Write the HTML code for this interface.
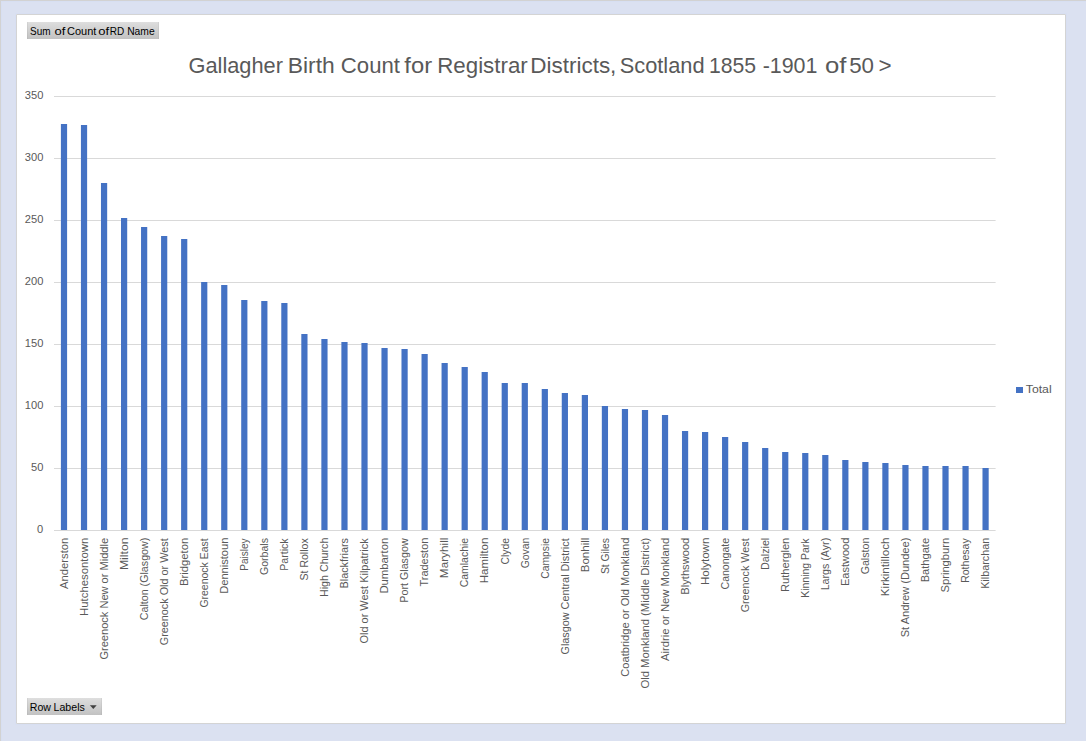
<!DOCTYPE html>
<html><head><meta charset="utf-8"><style>
html,body{margin:0;padding:0;}
body{width:1086px;height:741px;overflow:hidden;background:#dbe1f1;position:relative;font-family:"Liberation Sans",sans-serif;}
svg{position:absolute;left:0;top:0;}
.ax{font-family:"Liberation Sans",sans-serif;font-size:11.2px;fill:#595959;}
.ttl{font-family:"Liberation Sans",sans-serif;font-size:21.6px;fill:#595959;}
.btn{font-family:"Liberation Sans",sans-serif;font-size:11px;fill:#000;}
</style></head><body>
<svg width="1086" height="741" viewBox="0 0 1086 741">
<defs><linearGradient id="bg" x1="0" y1="0" x2="0" y2="1"><stop offset="0" stop-color="#dedede"/><stop offset="1" stop-color="#c2c2c2"/></linearGradient><linearGradient id="bgE" x1="0" y1="0" x2="0" y2="1"><stop offset="0" stop-color="#d3d3d3"/><stop offset="1" stop-color="#bababa"/></linearGradient></defs>
<rect x="1" y="1" width="1085" height="1" fill="#d7dff2"/>
<rect x="1" y="1" width="1" height="740" fill="#d7dff2"/>
<rect x="0" y="0" width="1086" height="1" fill="#d2d2d2"/>
<rect x="0" y="0" width="1" height="741" fill="#d2d2d2"/>
<rect x="15" y="13" width="1052" height="712" fill="#d8dff2"/>
<rect x="16" y="14" width="1050" height="710" fill="#d4d4d4"/>
<rect x="16" y="14" width="1" height="1" fill="#d9dbe0"/><rect x="1065" y="14" width="1" height="1" fill="#d9dbe0"/><rect x="16" y="723" width="1" height="1" fill="#d9dbe0"/><rect x="1065" y="723" width="1" height="1" fill="#d9dbe0"/>
<rect x="17" y="15" width="1048" height="708" fill="#ffffff"/>
<rect x="27" y="22" width="132" height="17" fill="url(#bg)"/><rect x="27" y="22" width="1" height="17" fill="url(#bgE)"/><rect x="158" y="22" width="1" height="17" fill="url(#bgE)"/>
<text x="30.10" y="34.6" class="btn" textLength="20.46" lengthAdjust="spacingAndGlyphs">Sum</text>
<text x="54.58" y="34.6" class="btn" textLength="10.87" lengthAdjust="spacingAndGlyphs">of</text>
<text x="67.05" y="34.6" class="btn" textLength="29.34" lengthAdjust="spacingAndGlyphs">Count</text>
<text x="98.18" y="34.6" class="btn" textLength="10.87" lengthAdjust="spacingAndGlyphs">of</text>
<text x="109.80" y="34.6" class="btn" textLength="14.44" lengthAdjust="spacingAndGlyphs">RD</text>
<text x="127.17" y="34.6" class="btn" textLength="27.52" lengthAdjust="spacingAndGlyphs">Name</text>
<text x="188.51" y="73" class="ttl" textLength="94.44" lengthAdjust="spacingAndGlyphs">Gallagher</text>
<text x="287.77" y="73" class="ttl" textLength="46.94" lengthAdjust="spacingAndGlyphs">Birth</text>
<text x="340.89" y="73" class="ttl" textLength="59.10" lengthAdjust="spacingAndGlyphs">Count</text>
<text x="404.36" y="73" class="ttl" textLength="27.74" lengthAdjust="spacingAndGlyphs">for</text>
<text x="437.21" y="73" class="ttl" textLength="90.56" lengthAdjust="spacingAndGlyphs">Registrar</text>
<text x="530.20" y="73" class="ttl" textLength="86.19" lengthAdjust="spacingAndGlyphs">Districts,</text>
<text x="619.71" y="73" class="ttl" textLength="84.94" lengthAdjust="spacingAndGlyphs">Scotland</text>
<text x="709.00" y="73" class="ttl" textLength="47.14" lengthAdjust="spacingAndGlyphs">1855</text>
<text x="762.64" y="73" class="ttl" textLength="54.78" lengthAdjust="spacingAndGlyphs">-1901</text>
<text x="825.07" y="73" class="ttl" textLength="21.43" lengthAdjust="spacingAndGlyphs">of</text>
<text x="849.21" y="73" class="ttl" textLength="24.84" lengthAdjust="spacingAndGlyphs">50</text>
<text x="878.48" y="73" class="ttl" textLength="13.11" lengthAdjust="spacingAndGlyphs">&gt;</text>
<rect x="53.98" y="530" width="941.62" height="1" fill="#d9d9d9"/>
<rect x="53.98" y="468" width="941.62" height="1" fill="#d9d9d9"/>
<rect x="53.98" y="406" width="941.62" height="1" fill="#d9d9d9"/>
<rect x="53.98" y="344" width="941.62" height="1" fill="#d9d9d9"/>
<rect x="53.98" y="282" width="941.62" height="1" fill="#d9d9d9"/>
<rect x="53.98" y="220" width="941.62" height="1" fill="#d9d9d9"/>
<rect x="53.98" y="158" width="941.62" height="1" fill="#d9d9d9"/>
<rect x="53.98" y="96" width="941.62" height="1" fill="#d9d9d9"/>
<text x="37.11" y="532.8" class="ax" textLength="6.19" lengthAdjust="spacingAndGlyphs">0</text>
<text x="30.99" y="470.8" class="ax" textLength="12.38" lengthAdjust="spacingAndGlyphs">50</text>
<text x="24.75" y="408.8" class="ax" textLength="18.57" lengthAdjust="spacingAndGlyphs">100</text>
<text x="24.75" y="346.8" class="ax" textLength="18.57" lengthAdjust="spacingAndGlyphs">150</text>
<text x="24.75" y="284.8" class="ax" textLength="18.57" lengthAdjust="spacingAndGlyphs">200</text>
<text x="24.75" y="222.8" class="ax" textLength="18.57" lengthAdjust="spacingAndGlyphs">250</text>
<text x="24.75" y="160.8" class="ax" textLength="18.57" lengthAdjust="spacingAndGlyphs">300</text>
<text x="24.75" y="98.8" class="ax" textLength="18.57" lengthAdjust="spacingAndGlyphs">350</text>
<rect x="60.90" y="124" width="6.2" height="406" fill="#4472c4"/>
<rect x="80.93" y="125" width="6.2" height="405" fill="#4472c4"/>
<rect x="100.97" y="183" width="6.2" height="347" fill="#4472c4"/>
<rect x="121.00" y="218" width="6.2" height="312" fill="#4472c4"/>
<rect x="141.04" y="227" width="6.2" height="303" fill="#4472c4"/>
<rect x="161.07" y="236" width="6.2" height="294" fill="#4472c4"/>
<rect x="181.10" y="239" width="6.2" height="291" fill="#4472c4"/>
<rect x="201.14" y="282" width="6.2" height="248" fill="#4472c4"/>
<rect x="221.17" y="285" width="6.2" height="245" fill="#4472c4"/>
<rect x="241.21" y="300" width="6.2" height="230" fill="#4472c4"/>
<rect x="261.24" y="301" width="6.2" height="229" fill="#4472c4"/>
<rect x="281.28" y="303" width="6.2" height="227" fill="#4472c4"/>
<rect x="301.31" y="334" width="6.2" height="196" fill="#4472c4"/>
<rect x="321.35" y="339" width="6.2" height="191" fill="#4472c4"/>
<rect x="341.38" y="342" width="6.2" height="188" fill="#4472c4"/>
<rect x="361.41" y="343" width="6.2" height="187" fill="#4472c4"/>
<rect x="381.45" y="348" width="6.2" height="182" fill="#4472c4"/>
<rect x="401.48" y="349" width="6.2" height="181" fill="#4472c4"/>
<rect x="421.52" y="354" width="6.2" height="176" fill="#4472c4"/>
<rect x="441.55" y="363" width="6.2" height="167" fill="#4472c4"/>
<rect x="461.59" y="367" width="6.2" height="163" fill="#4472c4"/>
<rect x="481.62" y="372" width="6.2" height="158" fill="#4472c4"/>
<rect x="501.66" y="383" width="6.2" height="147" fill="#4472c4"/>
<rect x="521.69" y="383" width="6.2" height="147" fill="#4472c4"/>
<rect x="541.72" y="389" width="6.2" height="141" fill="#4472c4"/>
<rect x="561.76" y="393" width="6.2" height="137" fill="#4472c4"/>
<rect x="581.79" y="395" width="6.2" height="135" fill="#4472c4"/>
<rect x="601.83" y="406" width="6.2" height="124" fill="#4472c4"/>
<rect x="621.86" y="409" width="6.2" height="121" fill="#4472c4"/>
<rect x="641.90" y="410" width="6.2" height="120" fill="#4472c4"/>
<rect x="661.93" y="415" width="6.2" height="115" fill="#4472c4"/>
<rect x="681.97" y="431" width="6.2" height="99" fill="#4472c4"/>
<rect x="702.00" y="432" width="6.2" height="98" fill="#4472c4"/>
<rect x="722.03" y="437" width="6.2" height="93" fill="#4472c4"/>
<rect x="742.07" y="442" width="6.2" height="88" fill="#4472c4"/>
<rect x="762.10" y="448" width="6.2" height="82" fill="#4472c4"/>
<rect x="782.14" y="452" width="6.2" height="78" fill="#4472c4"/>
<rect x="802.17" y="453" width="6.2" height="77" fill="#4472c4"/>
<rect x="822.21" y="455" width="6.2" height="75" fill="#4472c4"/>
<rect x="842.24" y="460" width="6.2" height="70" fill="#4472c4"/>
<rect x="862.28" y="462" width="6.2" height="68" fill="#4472c4"/>
<rect x="882.31" y="463" width="6.2" height="67" fill="#4472c4"/>
<rect x="902.34" y="465" width="6.2" height="65" fill="#4472c4"/>
<rect x="922.38" y="466" width="6.2" height="64" fill="#4472c4"/>
<rect x="942.41" y="466" width="6.2" height="64" fill="#4472c4"/>
<rect x="962.45" y="466" width="6.2" height="64" fill="#4472c4"/>
<rect x="982.48" y="468" width="6.2" height="62" fill="#4472c4"/>
<text transform="translate(67.75,588.90) rotate(-90)" class="ax" textLength="51.27" lengthAdjust="spacingAndGlyphs">Anderston</text>
<text transform="translate(87.78,615.91) rotate(-90)" class="ax" textLength="78.22" lengthAdjust="spacingAndGlyphs">Hutchesontown</text>
<text transform="translate(107.82,659.55) rotate(-90)" class="ax" textLength="121.64" lengthAdjust="spacingAndGlyphs">Greenock New or Middle</text>
<text transform="translate(127.85,570.07) rotate(-90)" class="ax" textLength="32.50" lengthAdjust="spacingAndGlyphs">Milton</text>
<text transform="translate(147.89,620.23) rotate(-90)" class="ax" textLength="82.53" lengthAdjust="spacingAndGlyphs">Calton (Glasgow)</text>
<text transform="translate(167.92,645.24) rotate(-90)" class="ax" textLength="106.89" lengthAdjust="spacingAndGlyphs">Greenock Old or West</text>
<text transform="translate(187.95,586.10) rotate(-90)" class="ax" textLength="48.39" lengthAdjust="spacingAndGlyphs">Bridgeton</text>
<text transform="translate(207.99,607.62) rotate(-90)" class="ax" textLength="69.27" lengthAdjust="spacingAndGlyphs">Greenock East</text>
<text transform="translate(228.02,593.79) rotate(-90)" class="ax" textLength="56.16" lengthAdjust="spacingAndGlyphs">Dennistoun</text>
<text transform="translate(248.06,570.81) rotate(-90)" class="ax" textLength="32.44" lengthAdjust="spacingAndGlyphs">Paisley</text>
<text transform="translate(268.09,574.93) rotate(-90)" class="ax" textLength="36.86" lengthAdjust="spacingAndGlyphs">Gorbals</text>
<text transform="translate(288.13,570.85) rotate(-90)" class="ax" textLength="32.52" lengthAdjust="spacingAndGlyphs">Partick</text>
<text transform="translate(308.16,580.53) rotate(-90)" class="ax" textLength="42.25" lengthAdjust="spacingAndGlyphs">St Rollox</text>
<text transform="translate(328.20,596.95) rotate(-90)" class="ax" textLength="59.28" lengthAdjust="spacingAndGlyphs">High Church</text>
<text transform="translate(348.23,588.47) rotate(-90)" class="ax" textLength="50.47" lengthAdjust="spacingAndGlyphs">Blackfriars</text>
<text transform="translate(368.26,643.55) rotate(-90)" class="ax" textLength="105.21" lengthAdjust="spacingAndGlyphs">Old or West Kilpatrick</text>
<text transform="translate(388.30,593.61) rotate(-90)" class="ax" textLength="55.96" lengthAdjust="spacingAndGlyphs">Dumbarton</text>
<text transform="translate(408.33,602.66) rotate(-90)" class="ax" textLength="64.28" lengthAdjust="spacingAndGlyphs">Port Glasgow</text>
<text transform="translate(428.37,586.52) rotate(-90)" class="ax" textLength="48.83" lengthAdjust="spacingAndGlyphs">Tradeston</text>
<text transform="translate(448.40,578.14) rotate(-90)" class="ax" textLength="40.50" lengthAdjust="spacingAndGlyphs">Maryhill</text>
<text transform="translate(468.44,587.22) rotate(-90)" class="ax" textLength="49.28" lengthAdjust="spacingAndGlyphs">Camlachie</text>
<text transform="translate(488.47,583.22) rotate(-90)" class="ax" textLength="45.59" lengthAdjust="spacingAndGlyphs">Hamilton</text>
<text transform="translate(508.51,564.52) rotate(-90)" class="ax" textLength="26.61" lengthAdjust="spacingAndGlyphs">Clyde</text>
<text transform="translate(528.54,568.32) rotate(-90)" class="ax" textLength="30.61" lengthAdjust="spacingAndGlyphs">Govan</text>
<text transform="translate(548.57,578.72) rotate(-90)" class="ax" textLength="40.79" lengthAdjust="spacingAndGlyphs">Campsie</text>
<text transform="translate(568.61,654.54) rotate(-90)" class="ax" textLength="116.20" lengthAdjust="spacingAndGlyphs">Glasgow Central District</text>
<text transform="translate(588.64,572.22) rotate(-90)" class="ax" textLength="34.53" lengthAdjust="spacingAndGlyphs">Bonhill</text>
<text transform="translate(608.68,574.12) rotate(-90)" class="ax" textLength="36.14" lengthAdjust="spacingAndGlyphs">St Giles</text>
<text transform="translate(628.71,676.76) rotate(-90)" class="ax" textLength="139.10" lengthAdjust="spacingAndGlyphs">Coatbridge or Old Monkland</text>
<text transform="translate(648.75,688.56) rotate(-90)" class="ax" textLength="150.87" lengthAdjust="spacingAndGlyphs">Old Monkland (Middle District)</text>
<text transform="translate(668.78,660.90) rotate(-90)" class="ax" textLength="123.27" lengthAdjust="spacingAndGlyphs">Airdrie or New Monkland</text>
<text transform="translate(688.82,594.69) rotate(-90)" class="ax" textLength="57.00" lengthAdjust="spacingAndGlyphs">Blythswood</text>
<text transform="translate(708.85,585.12) rotate(-90)" class="ax" textLength="47.45" lengthAdjust="spacingAndGlyphs">Holytown</text>
<text transform="translate(728.88,589.43) rotate(-90)" class="ax" textLength="51.48" lengthAdjust="spacingAndGlyphs">Canongate</text>
<text transform="translate(748.92,612.34) rotate(-90)" class="ax" textLength="73.97" lengthAdjust="spacingAndGlyphs">Greenock West</text>
<text transform="translate(768.95,569.96) rotate(-90)" class="ax" textLength="32.21" lengthAdjust="spacingAndGlyphs">Dalziel</text>
<text transform="translate(788.99,591.89) rotate(-90)" class="ax" textLength="54.17" lengthAdjust="spacingAndGlyphs">Rutherglen</text>
<text transform="translate(809.02,597.84) rotate(-90)" class="ax" textLength="59.44" lengthAdjust="spacingAndGlyphs">Kinning Park</text>
<text transform="translate(829.06,590.35) rotate(-90)" class="ax" textLength="52.57" lengthAdjust="spacingAndGlyphs">Largs (Ayr)</text>
<text transform="translate(849.09,586.08) rotate(-90)" class="ax" textLength="48.36" lengthAdjust="spacingAndGlyphs">Eastwood</text>
<text transform="translate(869.13,574.33) rotate(-90)" class="ax" textLength="36.64" lengthAdjust="spacingAndGlyphs">Galston</text>
<text transform="translate(889.16,596.13) rotate(-90)" class="ax" textLength="58.50" lengthAdjust="spacingAndGlyphs">Kirkintilloch</text>
<text transform="translate(909.19,637.25) rotate(-90)" class="ax" textLength="99.57" lengthAdjust="spacingAndGlyphs">St Andrew (Dundee)</text>
<text transform="translate(929.23,582.29) rotate(-90)" class="ax" textLength="44.37" lengthAdjust="spacingAndGlyphs">Bathgate</text>
<text transform="translate(949.26,592.56) rotate(-90)" class="ax" textLength="54.86" lengthAdjust="spacingAndGlyphs">Springburn</text>
<text transform="translate(969.30,582.84) rotate(-90)" class="ax" textLength="44.49" lengthAdjust="spacingAndGlyphs">Rothesay</text>
<text transform="translate(989.33,588.87) rotate(-90)" class="ax" textLength="51.17" lengthAdjust="spacingAndGlyphs">Kilbarchan</text>
<rect x="1016" y="387" width="7" height="6" fill="#4472c4"/>
<text x="1025.75" y="393" class="ax" textLength="25.91" lengthAdjust="spacingAndGlyphs">Total</text>
<rect x="27" y="698" width="75" height="17" fill="url(#bg)"/><rect x="27" y="698" width="1" height="17" fill="url(#bgE)"/><rect x="101" y="698" width="1" height="17" fill="url(#bgE)"/>
<text x="29.75" y="710.6" class="btn" textLength="21.15" lengthAdjust="spacingAndGlyphs">Row</text>
<text x="53.55" y="710.6" class="btn" textLength="31.24" lengthAdjust="spacingAndGlyphs">Labels</text>
<path d="M89.9 705.3 L96.7 705.3 L93.3 709 Z" fill="#404040"/>
</svg>
</body></html>
